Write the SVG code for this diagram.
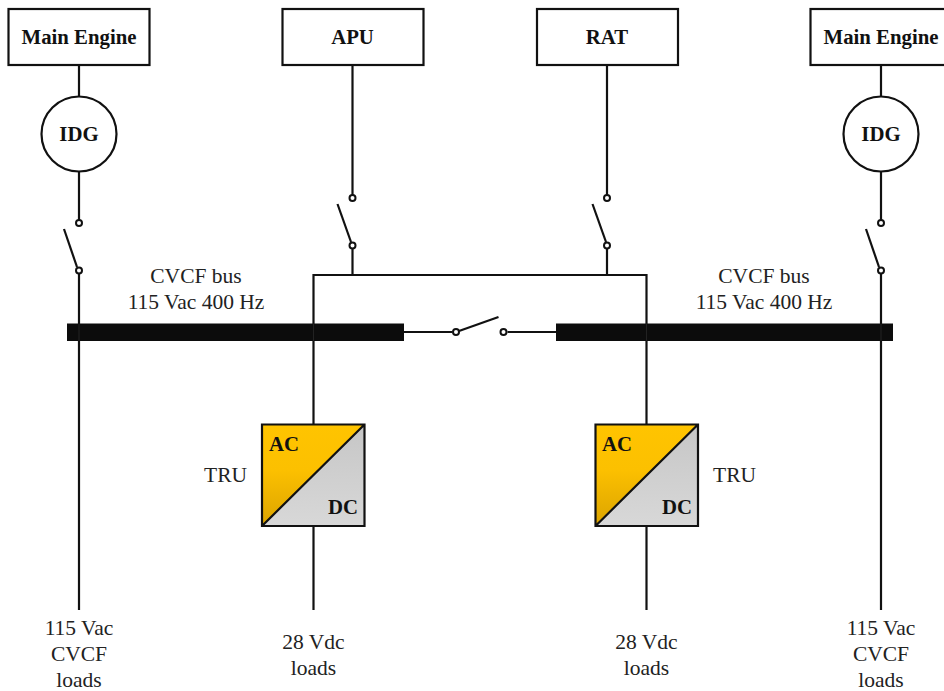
<svg xmlns="http://www.w3.org/2000/svg" width="944" height="691" viewBox="0 0 944 691">
<style>
text{font-family:"Liberation Serif","Times New Roman",serif;fill:#111;text-anchor:middle}
.b{font-weight:bold;font-size:20.800px}
.r{font-size:21.500px;fill:#222}
.box{fill:#fff;stroke:#111;stroke-width:2.200}
.w{fill:none;stroke:#111;stroke-width:2.200}
.t{fill:#fff;stroke:#111;stroke-width:2}
.bus{fill:#0c0c0c}
</style>
<defs>
<linearGradient id="ac" x1="0" y1="0" x2="0" y2="1"><stop offset="0" stop-color="#ffc400"/><stop offset="0.45" stop-color="#fcc000"/><stop offset="1" stop-color="#dba400"/></linearGradient>
<linearGradient id="dc" x1="0" y1="0" x2="0" y2="1"><stop offset="0" stop-color="#c6c6c6"/><stop offset="1" stop-color="#d8d8d8"/></linearGradient>
</defs>
<g id="connectors">
<path class="w" d="M79 65V96M79 171V220M79 272V610"/>
<path class="w" d="M352.500 65V195M352.500 248V275"/>
<path class="w" d="M607 65V195M607 248V275"/>
<path class="w" d="M881 65V96M881 171V220M881 272V610"/>
<path class="w" d="M313.500 424V275H646.500V424"/>
<path class="w" d="M313.500 526V610M646.500 526V610"/>
<path class="w" d="M404 332H452.500M507.500 332H556"/>
</g>
<g id="bus-left"><rect class="bus" x="67" y="323.500" width="337" height="17.500"/><path d="M313.500 323.500V341M79 323.500V341" stroke="#222" stroke-width="1"/></g>
<g id="bus-right"><rect class="bus" x="556" y="323.500" width="337" height="17.500"/><path d="M646.500 323.500V341M881 323.500V341" stroke="#222" stroke-width="1"/></g>
<g id="main-engine-left"><rect class="box" x="8.500" y="9" width="141" height="56"/><text class="b" x="79" y="44">Main Engine</text></g>
<g id="apu"><rect class="box" x="282.500" y="9" width="141" height="56"/><text class="b" x="352.500" y="44">APU</text></g>
<g id="rat"><rect class="box" x="537" y="9" width="141" height="56"/><text class="b" x="607" y="44">RAT</text></g>
<g id="main-engine-right"><rect class="box" x="810.500" y="9" width="141" height="56"/><text class="b" x="881" y="44">Main Engine</text></g>
<g id="idg-left"><circle class="box" cx="79" cy="134" r="37.500"/><text class="b" x="79" y="141">IDG</text></g>
<g id="idg-right"><circle class="box" cx="881" cy="134" r="37.500"/><text class="b" x="881" y="141">IDG</text></g>
<g id="switch-left"><path class="w" d="M64 229L77 267"/><circle class="t" cx="79" cy="223" r="3"/><circle class="t" cx="79" cy="270.500" r="3"/></g>
<g id="switch-apu"><path class="w" d="M337.500 204L351 242"/><circle class="t" cx="352.500" cy="198" r="3"/><circle class="t" cx="352.500" cy="245.500" r="3"/></g>
<g id="switch-rat"><path class="w" d="M592.500 204L606 242"/><circle class="t" cx="607" cy="198" r="3"/><circle class="t" cx="607" cy="245.500" r="3"/></g>
<g id="switch-right"><path class="w" d="M866 229L879 267"/><circle class="t" cx="881" cy="223" r="3"/><circle class="t" cx="881" cy="270.500" r="3"/></g>
<g id="switch-tie"><path class="w" d="M459 331L498.500 317"/><circle class="t" cx="456" cy="332" r="3"/><circle class="t" cx="503.500" cy="332" r="3"/></g>
<g id="tru-left"><path d="M262 424.500H364.500L262 526Z" fill="url(#ac)"/><path d="M364.500 424.500V526H262Z" fill="url(#dc)"/><path class="w" d="M262 424.500H364.500V526H262ZM262 526L364.500 424.500"/><text class="b" x="284" y="451">AC</text><text class="b" x="343" y="514">DC</text><text class="r" x="225.500" y="482">TRU</text></g>
<g id="tru-right"><path d="M595.500 424.500H698L595.500 526Z" fill="url(#ac)"/><path d="M698 424.500V526H595.500Z" fill="url(#dc)"/><path class="w" d="M595.500 424.500H698V526H595.500ZM595.500 526L698 424.500"/><text class="b" x="617" y="451">AC</text><text class="b" x="677" y="514">DC</text><text class="r" x="734.500" y="482">TRU</text></g>
<g id="label-bus-left"><text class="r" x="196" y="283">CVCF bus</text><text class="r" x="196" y="309">115 Vac 400 Hz</text></g>
<g id="label-bus-right"><text class="r" x="764" y="283">CVCF bus</text><text class="r" x="764" y="309">115 Vac 400 Hz</text></g>
<g id="load-1"><text class="r" x="79" y="635">115 Vac</text><text class="r" x="79" y="661">CVCF</text><text class="r" x="79" y="687">loads</text></g>
<g id="load-2"><text class="r" x="313.500" y="649">28 Vdc</text><text class="r" x="313.500" y="675">loads</text></g>
<g id="load-3"><text class="r" x="646.500" y="649">28 Vdc</text><text class="r" x="646.500" y="675">loads</text></g>
<g id="load-4"><text class="r" x="881" y="635">115 Vac</text><text class="r" x="881" y="661">CVCF</text><text class="r" x="881" y="687">loads</text></g>
</svg>
